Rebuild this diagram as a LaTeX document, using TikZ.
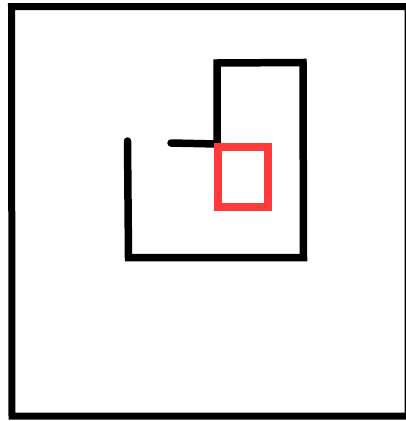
\documentclass[tikz,border=0pt]{standalone}
\definecolor{boxred}{RGB}{255,58,58}
\begin{document}
\begin{tikzpicture}[x=1pt,y=-1pt,
  frame/.style={draw=black,line width=7pt,line join=miter},
  wall/.style={draw=black,line width=7.5pt,line join=miter,line cap=round},
  marker/.style={draw=boxred,line width=8pt,line join=miter}]
\useasboundingbox (0,0) rectangle (406,421);
\fill[white] (0,0) rectangle (406,421);
% outer frame
\draw[frame] (11.5,6.5) -- (408,6.5) -- (408,416) -- (12,416) -- cycle;
% inner path
\draw[wall] (171,143) -- (217,144) -- (217,63) -- (303,62.5) -- (303.5,257.5) -- (128.5,257.5) -- (127.5,141);
% red box
\draw[marker] (218,146.5) rectangle (268,206.5);
\end{tikzpicture}
\end{document}
